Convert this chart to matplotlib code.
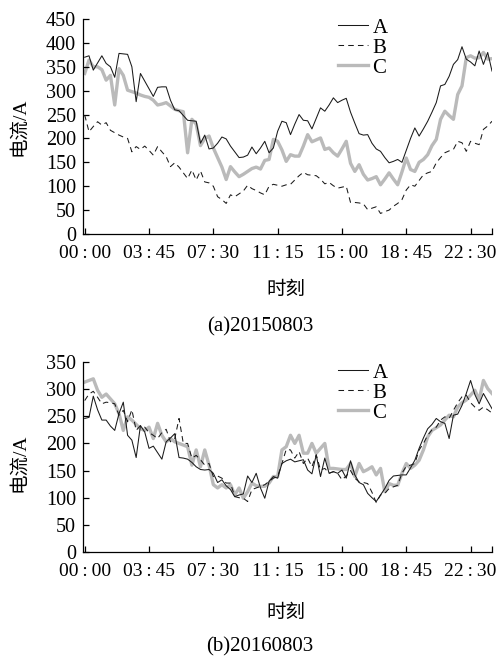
import matplotlib
matplotlib.use("Agg")
import matplotlib.pyplot as plt
import numpy as np

plt.rcParams['font.family'] = ['Liberation Serif', 'Noto Sans CJK SC', 'DejaVu Sans']
plt.rcParams['lines.scale_dashes'] = False

# ---------------- data ----------------
tick_labels = ["00\u2009:\u200900", "03\u2009:\u200945", "07\u2009:\u200930", "11\u2009:\u200915",
               "15\u2009:\u200900", "18\u2009:\u200945", "22\u2009:\u200930"]
series_names = ["A", "B", "C"]

# (a) 20150803, 96 points at 15-minute intervals
a_A = [370, 373, 343, 358, 373, 357, 350, 328, 378, 377, 376, 350, 277, 336, 320, 304,
       288, 307, 308, 308, 280, 260, 258, 248, 238, 237, 236, 190, 207, 178, 180, 190,
       203, 199, 184, 172, 160, 161, 165, 182, 168, 180, 194, 170, 180, 215, 236, 233,
       208, 230, 250, 238, 237, 220, 242, 264, 257, 270, 285, 275, 280, 284, 255, 232,
       210, 207, 208, 190, 178, 173, 160, 149, 152, 156, 150, 175, 200, 222, 205, 220,
       236, 255, 275, 310, 313, 330, 355, 365, 392, 366, 360, 352, 383, 355, 380, 341]
a_B = [249, 214, 225, 235, 228, 233, 217, 212, 207, 203, 200, 172, 183, 177, 184, 175,
       165, 183, 172, 162, 141, 149, 140, 128, 116, 134, 113, 132, 109, 107, 100, 78,
       72, 64, 82, 78, 84, 90, 102, 95, 91, 86, 82, 100, 104, 102, 100, 103,
       104, 113, 122, 129, 124, 123, 122, 115, 105, 108, 101, 96, 98, 100, 66, 66,
       65, 63, 51, 54, 57, 43, 47, 50, 58, 64, 72, 92, 103, 100, 112, 124,
       128, 131, 149, 160, 170, 174, 177, 194, 191, 173, 194, 190, 187, 219, 226, 236]
a_C = [336, 364, 350, 350, 344, 322, 332, 270, 346, 332, 301, 298, 295, 291, 288, 286,
       280, 270, 272, 275, 268, 261, 258, 256, 170, 240, 230, 185, 200, 205, 180, 160,
       140, 114, 141, 130, 120, 125, 131, 137, 140, 136, 154, 156, 198, 194, 176, 152,
       166, 163, 163, 184, 208, 193, 197, 201, 177, 180, 170, 163, 178, 194, 148, 131,
       145, 125, 113, 116, 120, 103, 115, 128, 115, 103, 130, 159, 135, 131, 150, 156,
       166, 185, 198, 240, 257, 248, 240, 292, 310, 369, 373, 368, 369, 380, 366, 367]

# (b) 20160803
b_A = [246, 248, 287, 262, 243, 243, 232, 224, 255, 276, 215, 206, 174, 233, 221, 191,
       195, 183, 171, 203, 210, 218, 174, 173, 171, 165, 157, 152, 151, 152, 145, 128,
       133, 122, 115, 102, 105, 107, 140, 128, 145, 118, 99, 130, 139, 136, 163, 168,
       171, 166, 168, 170, 151, 144, 179, 139, 173, 145, 148, 145, 151, 136, 168, 142,
       128, 124, 108, 100, 93, 105, 117, 132, 140, 141, 142, 142, 155, 169, 191, 210,
       227, 235, 246, 240, 237, 209, 252, 254, 270, 292, 316, 290, 273, 292, 278, 264]
b_B = [279, 291, 296, 285, 273, 276, 275, 273, 252, 261, 240, 262, 224, 233, 230, 220,
       215, 209, 220, 226, 203, 209, 246, 200, 200, 173, 178, 170, 160, 163, 139, 140,
       136, 127, 127, 102, 100, 99, 93, 115, 118, 121, 124, 130, 136, 139, 163, 189,
       188, 173, 185, 163, 173, 157, 179, 151, 154, 145, 148, 145, 133, 140, 150, 136,
       129, 128, 126, 110, 91, 105, 108, 117, 120, 123, 145, 158, 160, 163, 188, 200,
       215, 225, 230, 243, 249, 246, 261, 275, 286, 289, 275, 267, 261, 267, 262, 256]
b_C = [313, 316, 319, 298, 285, 291, 282, 273, 255, 224, 249, 243, 235, 227, 224, 230,
       209, 237, 215, 203, 209, 203, 200, 197, 194, 160, 188, 157, 188, 160, 124, 118,
       124, 118, 124, 105, 118, 99, 111, 127, 122, 121, 121, 127, 139, 139, 188, 194,
       215, 200, 215, 182, 182, 200, 182, 191, 200, 154, 154, 153, 152, 152, 163, 139,
       163, 148, 152, 157, 142, 154, 111, 126, 123, 123, 145, 163, 154, 160, 169, 188,
       212, 224, 229, 234, 243, 252, 249, 267, 275, 280, 289, 298, 280, 316, 301, 292]

W, H = 500, 664
fig = plt.figure(figsize=(W / 100, H / 100), dpi=100)

def fx(px):
    return px / W

def fy(py):
    return 1 - py / H

def panel(top_px, bot_px, dA, dB, dC, ymax, leg_top_px, ylab_y, xlab_y, cap_y, caption):
    ax = fig.add_axes([fx(83), fy(bot_px), fx(492) - fx(83), fy(top_px) - fy(bot_px)])
    x = np.arange(len(dA))
    lC, = ax.plot(x, dC, color='#bababa', lw=2.4, label=series_names[2], zorder=1)
    lA, = ax.plot(x, dA, color='#1a1a1a', lw=0.75, label=series_names[0], zorder=3)
    lB, = ax.plot(x, dB, color='#1a1a1a', lw=0.75, linestyle=(0, (4, 3)), label=series_names[1], zorder=2)
    ax.set_xlim(-0.4, 95)
    ax.set_ylim(0, ymax)
    ax.set_xticks(np.arange(0, 91, 15))
    ax.set_xticklabels(tick_labels)
    ax.set_xticks([95], minor=True)
    ax.set_yticks(np.arange(0, ymax + 1, 50))
    for s in ['top', 'right']:
        ax.spines[s].set_visible(False)
    for s in ['left', 'bottom']:
        ax.spines[s].set_linewidth(0.9)
    ax.tick_params(axis='both', which='both', direction='in', length=4, width=0.9)
    ax.tick_params(axis='y', pad=5, labelsize=14.5)
    ax.tick_params(axis='x', pad=8, labelsize=14)
    ax.legend(handles=[lA, lB, lC], loc='upper left',
              bbox_to_anchor=(fx(338), fy(leg_top_px)), bbox_transform=fig.transFigure,
              frameon=False, fontsize=15, handlelength=1.45, handletextpad=0.2,
              labelspacing=0.02, borderpad=0, borderaxespad=0)
    fig.text(fx(19), fy(ylab_y), "电流/A", rotation=90, ha='center', va='center', fontsize=14)
    fig.text(fx(286), fy(xlab_y), "时刻", ha='center', va='center', fontsize=14)
    fig.text(fx(260), fy(cap_y), caption, ha='center', va='center', fontsize=15)
    return ax

panel(19, 234, a_A, a_B, a_C, 450, 18, 127, 290, 327, "(a)20150803")
panel(362, 552, b_A, b_B, b_C, 350, 363, 463, 613, 647, "(b)20160803")

fig.savefig("out.png", dpi=100)
